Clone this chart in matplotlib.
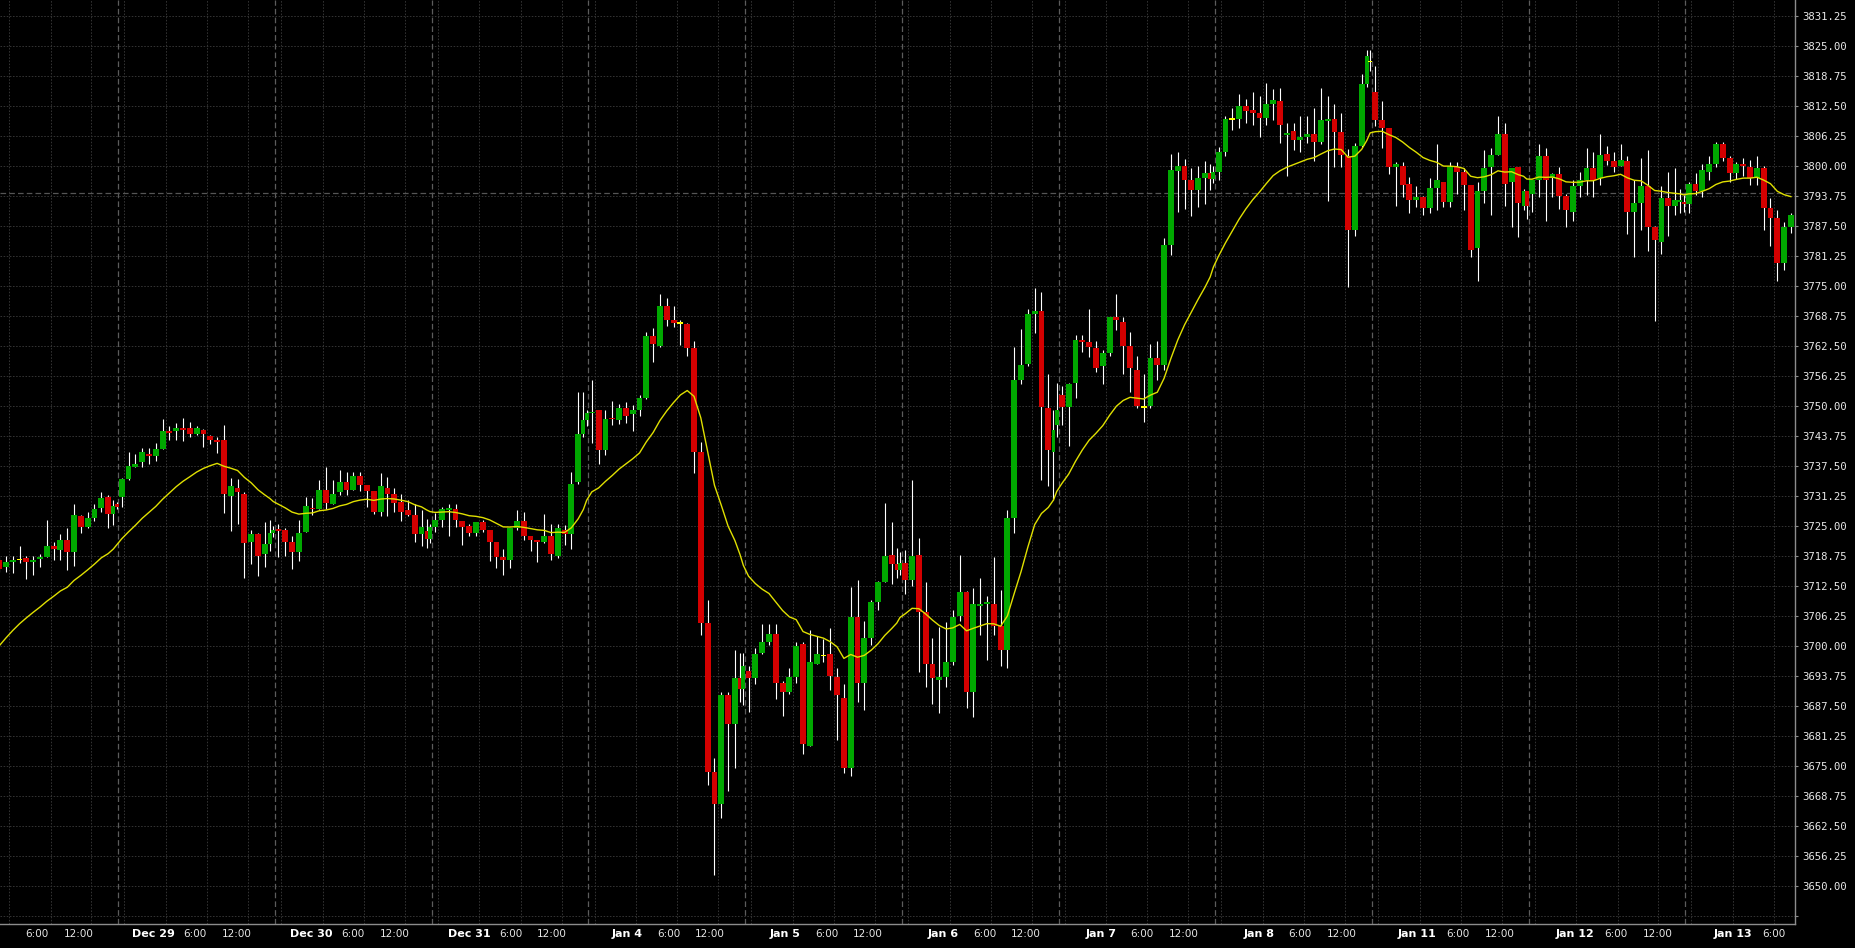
import numpy as np
import matplotlib
matplotlib.use("Agg")
import matplotlib.pyplot as plt
from matplotlib.transforms import blended_transform_factory

# ---------------- data ----------------
sessions = ['Dec 28', 'Dec 29', 'Dec 30', 'Dec 31', 'Jan 4', 'Jan 5', 'Jan 6',
            'Jan 7', 'Jan 8', 'Jan 11', 'Jan 12', 'Jan 13']
first_bar = 5      # first visible hourly bar of the first session
last_bar = 15      # last visible hourly bar of the last session

opens = [
    # Dec 28
    3718.0, 3716.5, 3717.5, 3718.0, 3718.25, 3717.5, 3718.25, 3718.5, 3720.75, 3720.0, 3722.0, 3719.5,
    3727.0, 3724.75, 3726.75, 3728.75, 3731.0, 3727.5, 3729.5,
    # Dec 29
    3731.0, 3734.75, 3737.25, 3738.25, 3740.0, 3739.5, 3741.0, 3744.75, 3744.75, 3745.5, 3745.5, 3744.25,
    3745.0, 3743.75, 3743.0, 3743.0, 3731.25, 3733.0, 3731.75, 3721.75, 3723.25, 3719.25, 3721.25, 3723.5,
    # Dec 30
    3724.25, 3724.25, 3721.75, 3719.5, 3723.75, 3728.75, 3728.5, 3732.5, 3729.5, 3732.0, 3734.25, 3732.5,
    3735.5, 3733.5, 3732.25, 3728.0, 3733.0, 3731.75, 3730.0, 3728.25, 3727.25, 3723.25, 3724.0, 3722.25,
    # Dec 31
    3724.75, 3726.25, 3728.25, 3728.5, 3726.0, 3725.0, 3723.5, 3725.75, 3724.25, 3721.75, 3718.5, 3718.0,
    3724.5, 3726.0, 3723.0, 3722.0, 3721.75, 3723.0, 3718.75, 3724.25, 3723.25, 3734.25, 3744.25, 3747.0,
    # Jan 4
    3748.5, 3749.25, 3740.75, 3747.5, 3747.0, 3749.5, 3748.25, 3749.25, 3751.75, 3764.5, 3762.5, 3770.75,
    3768.0, 3767.25, 3767.0, 3762.0, 3740.5, 3704.75, 3673.75, 3667.0, 3689.75, 3683.75, 3693.25, 3691.0,
    # Jan 5
    3694.75, 3693.25, 3698.5, 3700.75, 3702.5, 3692.25, 3690.5, 3693.5, 3700.5, 3679.25, 3696.25, 3698.0,
    3698.25, 3693.5, 3689.25, 3674.5, 3706.0, 3692.25, 3701.75, 3709.25, 3713.25, 3719.0, 3717.0, 3715.75,
    # Jan 6
    3717.25, 3713.75, 3719.0, 3707.0, 3696.25, 3693.0, 3693.5, 3696.75, 3706.25, 3711.25, 3690.5, 3708.25,
    3708.75, 3708.75, 3704.25, 3699.25, 3726.75, 3755.5, 3758.75, 3769.25, 3769.75, 3749.5, 3740.5, 3746.0,
    # Jan 7
    3752.25, 3749.75, 3754.75, 3763.75, 3763.25, 3762.0, 3758.25, 3761.0, 3768.5, 3767.5, 3762.5, 3757.5,
    3749.75, 3750.0, 3760.0, 3758.5, 3783.5, 3799.0, 3800.0, 3797.0, 3795.0, 3797.5, 3798.5, 3797.25,
    # Jan 8
    3798.75, 3803.0, 3809.75, 3809.75, 3812.5, 3811.75, 3811.0, 3810.0, 3813.0, 3813.5, 3806.5, 3807.25,
    3805.5, 3806.0, 3806.75, 3805.0, 3809.5, 3809.75, 3807.0, 3802.0, 3786.75, 3804.25, 3817.0, 3821.75,
    # Jan 11
    3815.5, 3809.5, 3808.0, 3799.75, 3800.0, 3796.25, 3793.0, 3793.5, 3791.25, 3795.5, 3796.75, 3792.5,
    3799.75, 3798.75, 3796.0, 3783.0, 3794.75, 3799.75, 3802.25, 3806.75, 3796.75, 3799.75, 3791.75, 3794.75,
    # Jan 12
    3794.25, 3797.0, 3802.0, 3797.5, 3798.25, 3793.75, 3790.5, 3795.75, 3797.0, 3799.5, 3797.5, 3802.5,
    3801.0, 3800.0, 3801.0, 3790.5, 3792.25, 3795.75, 3787.25, 3784.25, 3793.25, 3791.75, 3792.5, 3792.5,
    # Jan 13
    3792.0, 3796.25, 3794.75, 3798.75, 3800.5, 3804.5, 3801.75, 3798.5, 3800.5, 3799.75, 3797.5, 3799.5,
    3791.25, 3789.25, 3779.75, 3787.25,
]

highs = [
    3718.5, 3718.75, 3718.75, 3720.75, 3718.75, 3718.75, 3719.25, 3726.25, 3721.75, 3723.25, 3724.5, 3729.5,
    3727.25, 3728.0, 3729.5, 3732.0, 3731.5, 3730.5, 3730.0,
    3735.0, 3740.5, 3740.0, 3741.25, 3741.25, 3742.25, 3747.25, 3745.75, 3746.5, 3747.5, 3746.75, 3745.75,
    3745.25, 3744.0, 3743.5, 3746.0, 3735.0, 3734.75, 3732.0, 3724.25, 3723.5, 3725.75, 3726.25, 3725.0,
    3725.5, 3724.5, 3723.0, 3726.25, 3731.0, 3730.75, 3734.5, 3737.25, 3734.5, 3736.75, 3736.25, 3736.25,
    3736.25, 3733.5, 3732.25, 3736.0, 3735.25, 3733.0, 3731.75, 3730.5, 3729.5, 3728.25, 3726.5, 3725.5,
    3727.75, 3729.0, 3729.5, 3729.5, 3726.0, 3725.5, 3725.75, 3726.25, 3724.25, 3721.75, 3720.25, 3724.5,
    3728.25, 3728.0, 3723.0, 3722.0, 3727.5, 3725.5, 3725.5, 3725.25, 3736.25, 3753.0, 3753.0, 3749.25,
    3755.5, 3749.25, 3749.25, 3751.0, 3750.5, 3750.75, 3750.25, 3752.25, 3765.5, 3766.25, 3773.25, 3772.5,
    3770.75, 3768.0, 3767.25, 3763.5, 3742.5, 3709.5, 3676.75, 3690.5, 3690.5, 3699.25, 3698.5, 3698.5,
    3695.75, 3699.5, 3704.5, 3704.5, 3704.5, 3692.75, 3695.5, 3700.75, 3700.75, 3703.25, 3702.0, 3701.5,
    3703.75, 3695.5, 3692.0, 3712.25, 3713.75, 3705.25, 3709.5, 3713.5, 3729.75, 3725.75, 3720.5, 3719.5,
    3720.0, 3734.5, 3722.5, 3713.25, 3701.75, 3704.0, 3705.0, 3707.5, 3719.0, 3711.5, 3712.0, 3714.25,
    3710.5, 3718.5, 3711.75, 3728.25, 3762.25, 3766.0, 3770.25, 3774.5, 3773.75, 3756.75, 3749.25, 3754.75,
    3754.25, 3754.75, 3764.75, 3764.75, 3770.25, 3763.5, 3761.75, 3768.5, 3773.25, 3768.5, 3765.5, 3760.5,
    3756.75, 3763.0, 3763.5, 3785.0, 3802.5, 3803.0, 3801.5, 3799.5, 3800.0, 3801.0, 3800.5, 3800.0,
    3804.0, 3810.5, 3812.0, 3815.0, 3814.0, 3815.5, 3814.5, 3817.25, 3816.0, 3816.25, 3809.0, 3809.0,
    3810.5, 3810.5, 3812.0, 3816.25, 3814.5, 3813.0, 3811.0, 3803.5, 3804.75, 3819.25, 3824.25, 3824.25,
    3820.75, 3813.5, 3808.0, 3800.75, 3800.75, 3797.75, 3795.75, 3793.75, 3797.5, 3804.5, 3796.75, 3800.75,
    3800.75, 3799.5, 3796.0, 3796.75, 3803.25, 3803.75, 3810.5, 3809.0, 3799.5, 3799.75, 3795.25, 3794.75,
    3797.0, 3804.5, 3803.75, 3798.5, 3799.75, 3794.25, 3797.0, 3798.75, 3803.75, 3803.0, 3806.75, 3804.25,
    3803.0, 3804.5, 3802.0, 3797.0, 3801.75, 3803.25, 3787.5, 3795.75, 3798.75, 3799.5, 3795.25, 3794.0,
    3796.75, 3798.5, 3800.5, 3802.0, 3805.0, 3805.0, 3802.0, 3800.75, 3801.75, 3801.25, 3802.0, 3800.0,
    3793.25, 3790.75, 3788.25, 3790.25,
]

lows = [
    3715.5, 3715.5, 3715.25, 3717.25, 3714.0, 3714.75, 3716.5, 3718.5, 3718.0, 3718.0, 3715.75, 3716.75,
    3723.5, 3724.5, 3726.0, 3728.0, 3724.5, 3725.25, 3728.5,
    3729.0, 3734.5, 3737.25, 3737.25, 3738.0, 3738.5, 3741.0, 3743.0, 3743.0, 3742.75, 3743.5, 3744.0,
    3741.5, 3742.0, 3740.25, 3727.75, 3724.0, 3725.5, 3714.25, 3717.0, 3714.5, 3716.5, 3719.75, 3722.75,
    3718.5, 3718.75, 3716.0, 3717.75, 3723.75, 3727.25, 3728.5, 3728.5, 3729.5, 3731.5, 3731.5, 3732.5,
    3732.25, 3729.0, 3727.5, 3727.0, 3727.0, 3728.0, 3726.0, 3727.0, 3721.75, 3720.75, 3720.5, 3721.5,
    3723.75, 3724.75, 3723.0, 3724.75, 3721.0, 3723.0, 3723.0, 3723.75, 3717.75, 3716.25, 3714.75, 3716.25,
    3724.25, 3722.0, 3719.75, 3717.5, 3721.5, 3718.0, 3718.25, 3721.0, 3720.25, 3733.75, 3743.5, 3745.75,
    3742.25, 3738.0, 3739.75, 3746.0, 3746.25, 3746.5, 3744.75, 3748.0, 3751.5, 3759.25, 3762.25, 3766.75,
    3766.5, 3762.75, 3760.5, 3736.0, 3702.25, 3671.0, 3652.25, 3664.25, 3669.75, 3674.5, 3688.25, 3687.75,
    3686.25, 3692.0, 3698.25, 3700.25, 3689.0, 3685.5, 3690.0, 3692.25, 3677.5, 3679.25, 3696.25, 3696.75,
    3690.75, 3680.5, 3673.5, 3673.0, 3688.25, 3686.75, 3700.25, 3707.5, 3713.25, 3713.0, 3714.25, 3714.75,
    3710.75, 3712.5, 3694.5, 3691.5, 3688.0, 3686.0, 3691.5, 3696.0, 3705.25, 3687.0, 3685.25, 3702.25,
    3697.0, 3702.25, 3695.75, 3695.5, 3723.5, 3754.5, 3758.25, 3765.25, 3734.5, 3733.25, 3730.5, 3743.5,
    3746.0, 3741.75, 3751.75, 3761.25, 3760.25, 3757.0, 3754.5, 3760.5, 3765.75, 3756.75, 3753.0, 3749.5,
    3746.75, 3749.5, 3755.5, 3757.5, 3781.5, 3790.5, 3791.0, 3789.5, 3791.5, 3792.0, 3795.0, 3796.5,
    3797.0, 3802.0, 3807.5, 3808.0, 3809.0, 3808.5, 3806.0, 3808.5, 3809.5, 3804.75, 3798.0, 3803.25,
    3803.0, 3804.75, 3801.0, 3804.5, 3792.75, 3799.75, 3799.75, 3774.75, 3785.5, 3804.0, 3816.5, 3819.75,
    3808.25, 3803.75, 3798.25, 3791.75, 3793.5, 3790.25, 3791.5, 3789.75, 3790.25, 3790.75, 3791.5, 3791.5,
    3794.25, 3790.75, 3781.0, 3776.0, 3792.25, 3789.75, 3802.25, 3791.75, 3787.25, 3785.25, 3790.75, 3789.0,
    3790.5, 3793.5, 3788.5, 3793.5, 3791.0, 3787.25, 3788.5, 3793.5, 3794.0, 3793.5, 3796.0, 3800.25,
    3798.75, 3800.0, 3785.75, 3781.0, 3786.75, 3782.25, 3767.75, 3781.75, 3785.5, 3789.75, 3790.25, 3790.5,
    3790.25, 3794.0, 3793.5, 3797.0, 3799.75, 3801.0, 3796.75, 3797.25, 3798.0, 3796.0, 3796.0, 3786.75,
    3783.25, 3776.0, 3778.25, 3786.0,
]

closes = [
    3716.0, 3717.5, 3718.0, 3718.0, 3717.5, 3718.0, 3718.5, 3720.75, 3720.25, 3722.0, 3719.5, 3727.25,
    3724.75, 3726.75, 3728.5, 3730.75, 3727.5, 3729.25, 3729.0,
    3734.75, 3737.5, 3738.0, 3740.5, 3739.5, 3741.0, 3744.75, 3744.5, 3745.5, 3745.0, 3744.25, 3745.5,
    3744.25, 3743.0, 3742.5, 3731.75, 3733.25, 3732.0, 3721.5, 3723.25, 3718.75, 3721.25, 3723.5, 3724.25,
    3724.0, 3721.75, 3719.5, 3723.5, 3729.25, 3728.5, 3732.5, 3729.75, 3731.75, 3734.25, 3732.5, 3735.5,
    3733.5, 3732.25, 3728.0, 3733.25, 3731.75, 3729.75, 3728.0, 3727.25, 3723.25, 3724.75, 3722.25, 3724.75,
    3726.25, 3728.5, 3728.75, 3726.25, 3724.75, 3723.5, 3725.75, 3724.25, 3721.75, 3718.5, 3718.0, 3724.5,
    3726.0, 3723.0, 3722.0, 3721.75, 3723.0, 3719.25, 3724.5, 3723.25, 3733.75, 3744.25, 3747.0, 3748.5,
    3748.75, 3740.75, 3747.25, 3747.25, 3749.5, 3748.0, 3749.25, 3751.75, 3764.5, 3763.0, 3770.75, 3768.0,
    3767.25, 3767.25, 3762.0, 3740.5, 3704.75, 3673.75, 3667.0, 3689.75, 3683.75, 3693.25, 3691.0, 3695.75,
    3693.25, 3698.25, 3700.75, 3702.5, 3692.25, 3690.5, 3693.5, 3700.0, 3679.5, 3696.75, 3698.25, 3698.0,
    3693.75, 3689.75, 3674.5, 3706.0, 3692.25, 3701.75, 3709.25, 3713.25, 3718.75, 3717.0, 3715.75, 3717.25,
    3713.75, 3718.75, 3707.0, 3696.25, 3693.25, 3693.5, 3696.75, 3706.0, 3711.25, 3690.5, 3708.75, 3708.75,
    3709.25, 3704.25, 3699.25, 3726.75, 3755.5, 3758.5, 3769.25, 3769.75, 3749.75, 3740.75, 3745.0, 3749.25,
    3749.75, 3754.5, 3763.75, 3763.25, 3762.25, 3758.0, 3761.0, 3768.5, 3768.0, 3762.5, 3758.0, 3750.0,
    3749.75, 3760.0, 3758.5, 3783.5, 3799.25, 3800.0, 3797.0, 3795.0, 3797.5, 3798.5, 3797.25, 3798.75,
    3803.0, 3809.75, 3809.75, 3812.5, 3811.5, 3811.0, 3810.0, 3813.0, 3813.75, 3808.5, 3806.75, 3805.5,
    3806.0, 3806.75, 3805.0, 3809.5, 3809.75, 3807.0, 3802.25, 3786.75, 3804.25, 3817.0, 3823.0, 3821.75,
    3809.5, 3808.0, 3799.75, 3800.5, 3796.0, 3793.0, 3793.5, 3791.25, 3795.5, 3797.0, 3792.5, 3799.75,
    3798.75, 3796.0, 3782.5, 3794.75, 3799.5, 3802.25, 3806.75, 3796.25, 3799.5, 3792.25, 3794.75, 3791.75,
    3797.0, 3802.0, 3797.0, 3798.25, 3793.75, 3790.75, 3795.75, 3797.0, 3799.5, 3797.0, 3802.25, 3801.0,
    3799.75, 3801.25, 3790.5, 3792.25, 3795.75, 3787.25, 3784.5, 3793.25, 3791.75, 3793.0, 3793.0, 3792.0,
    3796.25, 3794.75, 3799.25, 3800.5, 3804.5, 3801.75, 3798.5, 3800.5, 3800.0, 3797.5, 3799.5, 3791.25,
    3789.25, 3779.75, 3787.25, 3789.75,
]

ma_period = 20          # exponential moving average length
ma_start = 3700.0       # average value at the first visible bar
ref_level = 3794.3      # dashed horizontal price line
y_levels = [3643.75 + 6.25 * i for i in range(31)]

# ---------------- layout ----------------
W, H = 1855, 948
fig = plt.figure(figsize=(W / 100, H / 100), dpi=100, facecolor='black')
ax = fig.add_axes([0, 24 / H, 1795 / W, 924 / H])
ax.set_facecolor('black')

SLOTS = 23
x_pos, widths = [], []
for j in range(len(sessions)):
    s = -5 + SLOTS * j
    i0 = first_bar if j == 0 else 0
    i1 = last_bar if j == len(sessions) - 1 else SLOTS - 1
    for i in range(i0, i1 + 1):
        if i < SLOTS - 1:
            x_pos.append(s + i)
            widths.append(0.86)
        else:  # closing slot holds two short bars
            x_pos += [s + i - 0.24, s + i + 0.24]
            widths += [0.58, 0.58]

o = np.array(opens); h = np.array(highs); l = np.array(lows); c = np.array(closes)
x = np.array(x_pos); w = np.array(widths)
n = min(len(x), len(o))
x, w, o, h, l, c = x[:n], w[:n], o[:n], h[:n], l[:n], c[:n]

xmin, xmax = 0.132, 263.6
ymin, ymax = 3642.08, 3834.58
ax.set_xlim(xmin, xmax)
ax.set_ylim(ymin, ymax)

# grid
grid_kw = dict(color='#323232', lw=0.75, dashes=(1.5, 1.5), zorder=1)
for v in y_levels:
    ax.axhline(v, **grid_kw)
for j in range(len(sessions) + 1):
    s = -5 + SLOTS * j
    for off in (0.4, 6.5, 12.55, 18.55):
        if xmin < s + off < xmax:
            ax.axvline(s + off, **grid_kw)
    if xmin < s - 0.5 < xmax:
        ax.axvline(s - 0.5, color='#5c5c5c', lw=0.9, dashes=(4.5, 2.5), zorder=1.5)
ax.axhline(ref_level, color='#555555', lw=0.9, dashes=(4.5, 2.5), zorder=1.5)

# candles
ax.vlines(x, l, h, color='white', lw=0.8, zorder=3)
min_h = 0.35
body_col = []
bottoms, heights = [], []
for oi, ci in zip(o, c):
    if abs(ci - oi) < 1e-9:
        body_col.append('#ffff00')
        bottoms.append(oi - min_h / 2); heights.append(min_h)
    else:
        body_col.append('#00a800' if ci > oi else '#d40000')
        lo, hi = min(oi, ci), max(oi, ci)
        if hi - lo < min_h:
            mid = (hi + lo) / 2
            lo, hi = mid - min_h / 2, mid + min_h / 2
        bottoms.append(lo); heights.append(hi - lo)
ax.bar(x, heights, bottom=bottoms, width=w, color=body_col, lw=0, zorder=4)

# moving average
alpha = 2.0 / (ma_period + 1)
ma = [ma_start]
for ci in c[1:]:
    ma.append(ma[-1] + alpha * (ci - ma[-1]))
ax.plot(x, ma, color='#e0e000', lw=1.0, zorder=5)

# axes / spines
for sp in ('top', 'left'):
    ax.spines[sp].set_visible(False)
for sp in ('right', 'bottom'):
    ax.spines[sp].set_color('#8c8c8c')
    ax.spines[sp].set_linewidth(1.0)
ax.set_xticks([])
ax.yaxis.tick_right()
ax.set_yticks(y_levels)
ax.set_yticklabels([''] + ['%.2f' % v for v in y_levels[1:]],
                   fontfamily='DejaVu Sans Mono', fontsize=7.7, color='#e8e8e8')
ax.tick_params(axis='y', length=2, width=0.8, color='#8c8c8c', pad=3.4)

# time axis labels
trans = blended_transform_factory(ax.transData, fig.transFigure)
ylab = 1 - 934 / H
for j, name in enumerate(sessions):
    center = 22.63 + 23.18 * (j - 1)
    items = [(center, name, True), (center + 6.09, '6:00', False), (center + 12.2, '12:00', False)]
    for xc, txt, bold in items:
        half = 3.2 if bold else 2.3
        if xc - half < xmin or xc + half > xmax:
            continue
        ax.text(xc, ylab, txt, transform=trans, ha='center', va='center',
                fontsize=8 if bold else 7.5, fontweight='bold' if bold else 'normal',
                color='white' if bold else '#e6e6e6', clip_on=False)

fig.savefig('out.png', dpi=100, facecolor='black')
